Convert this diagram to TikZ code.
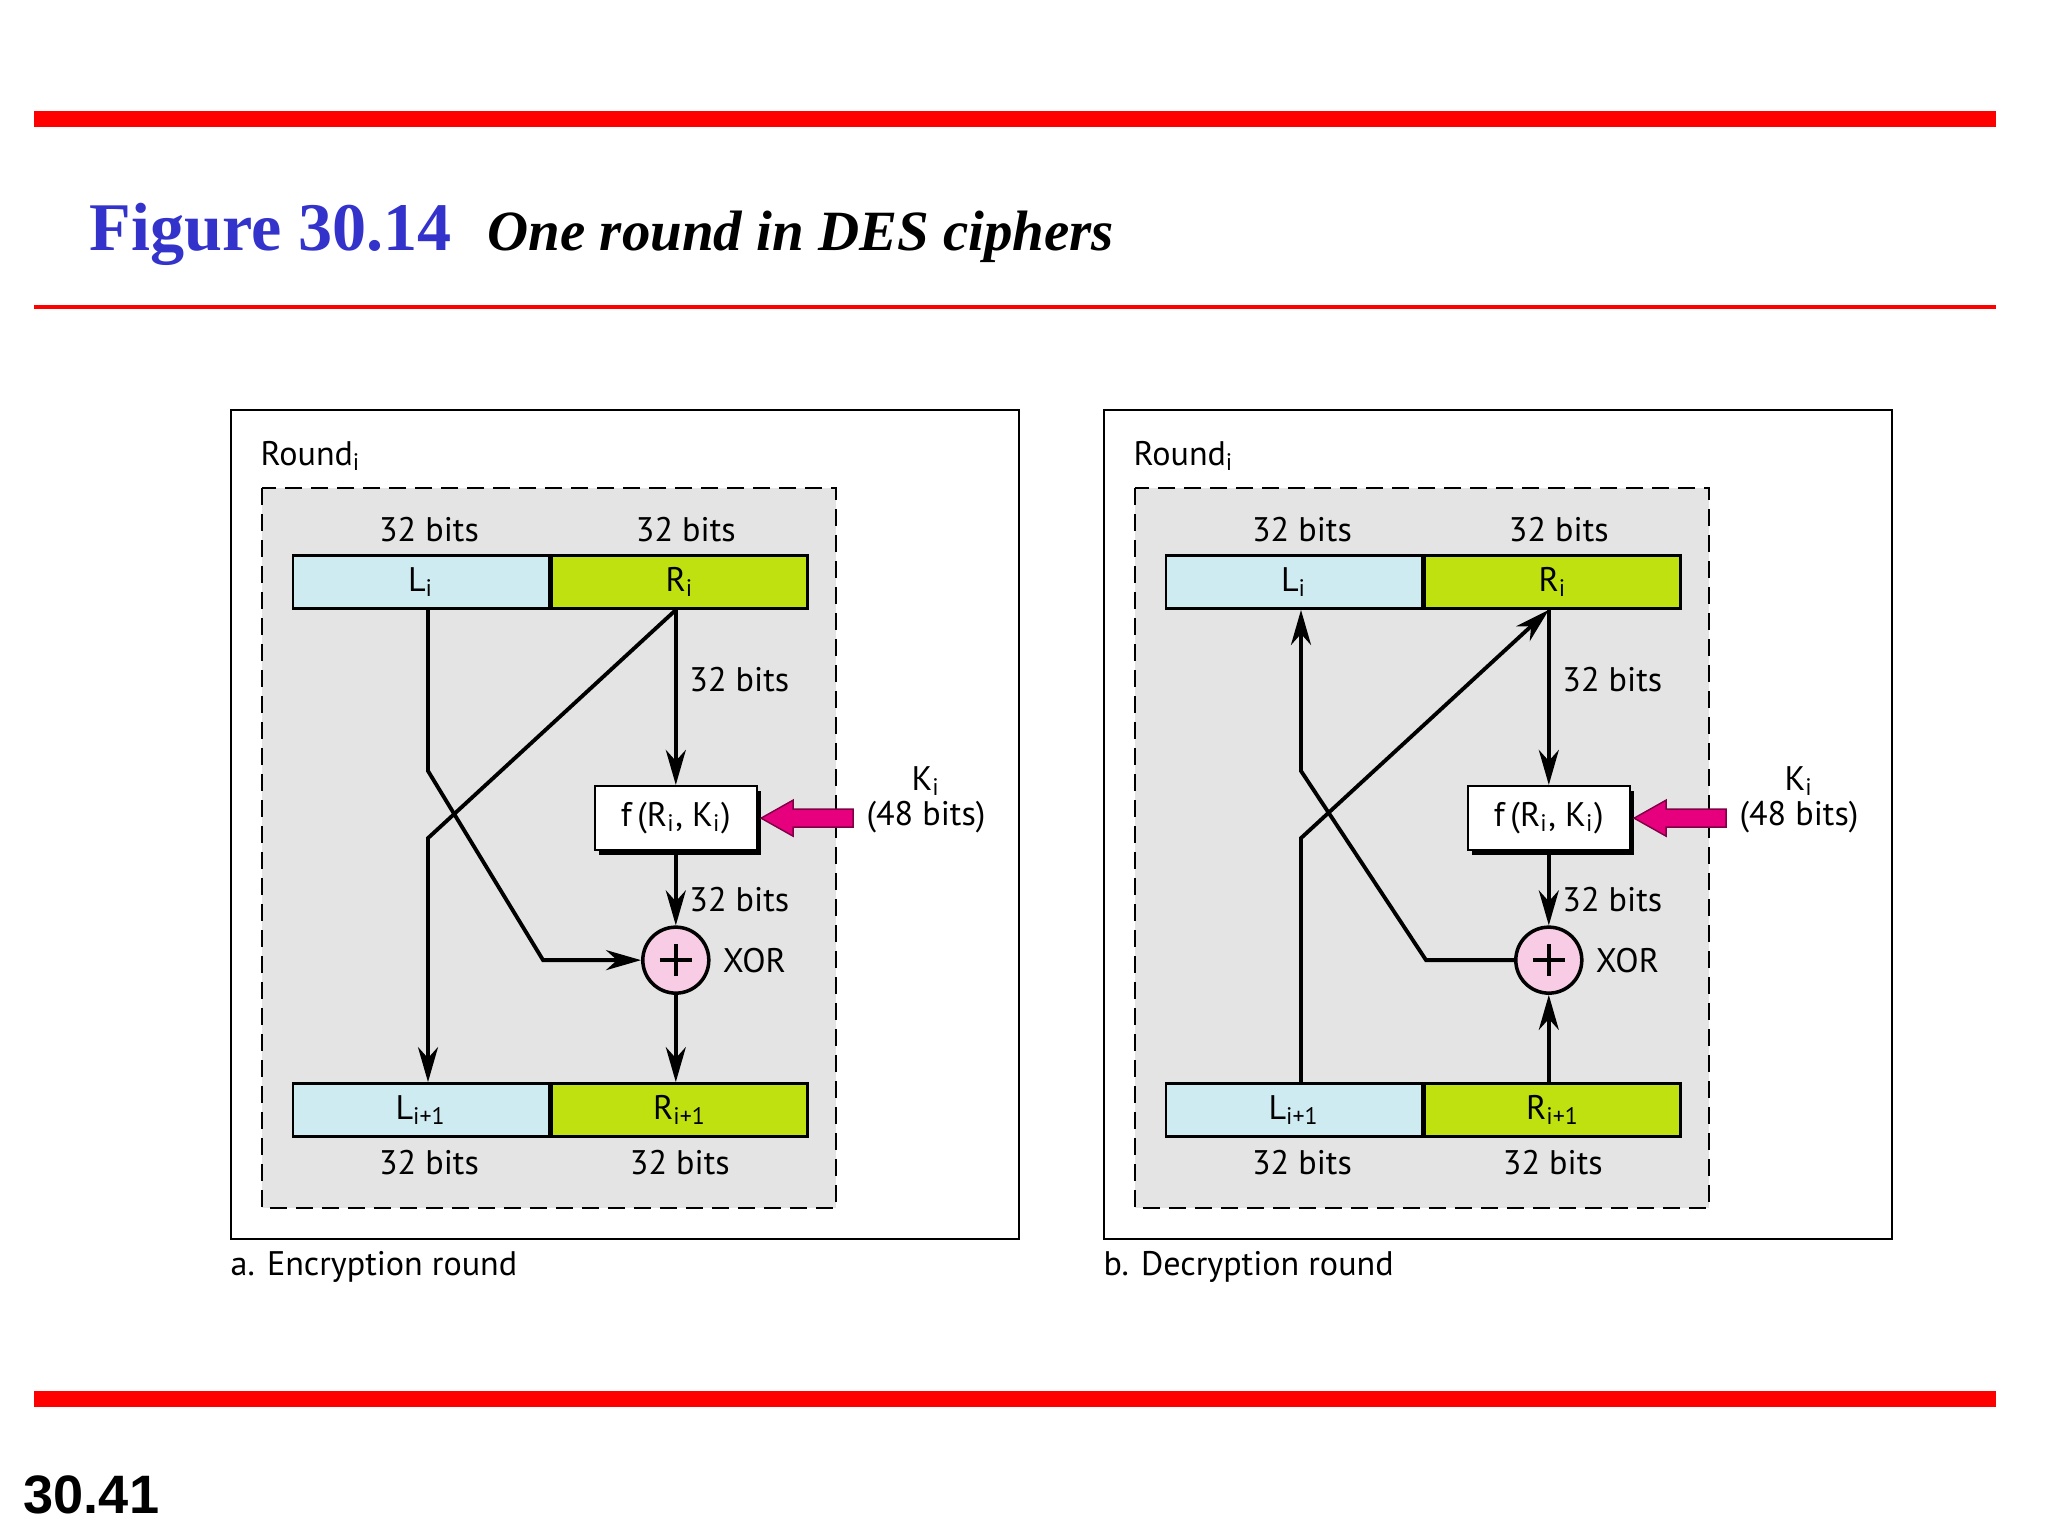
\documentclass[tikz,border=0pt]{standalone}
\usepackage{fontspec}
\setmainfont{PT Sans}
\newfontfamily\titlefont{Liberation Serif}
\newfontfamily\pagefont{Liberation Sans}
\usetikzlibrary{arrows.meta,calc,positioning,shadows}
\definecolor{RuleClr}{rgb}{1,0,0}
\definecolor{TitleClr}{RGB}{51,51,204}
\definecolor{LeftClr}{RGB}{205,235,241}
\definecolor{RightClr}{RGB}{190,225,15}
\definecolor{XorClr}{RGB}{248,204,228}
\definecolor{KeyClr}{RGB}{230,0,126}
\definecolor{RoundClr}{RGB}{228,228,228}

\begin{document}
\begin{tikzpicture}[x=0.1mm,y=-0.1mm,
  every node/.style={font=\fontsize{9.7}{11.6}\selectfont},
  half/.style={draw,line width=0.8pt,minimum width=25.6mm,minimum height=5.3mm,inner sep=0pt},
  fbox/.style={draw,line width=0.7pt,fill=white,minimum width=16.2mm,minimum height=6.4mm,
    drop shadow={shadow xshift=0.45mm,shadow yshift=-0.45mm,fill=black,opacity=1}},
  xor/.style={circle,draw,line width=1pt,fill=XorClr,minimum size=6.6mm,inner sep=0pt,
    path picture={\draw[line width=1pt]
      ([xshift=-1.6mm]path picture bounding box.center) -- ([xshift=1.6mm]path picture bounding box.center)
      ([yshift=-1.6mm]path picture bounding box.center) -- ([yshift=1.6mm]path picture bounding box.center);}},
  flow/.style={line width=1.1pt,-{Stealth[length=3.5mm,width=2mm,inset=1.1mm]}},
  keyarrow/.style={fill=KeyClr,draw=KeyClr!55!black,line width=0.4pt},
  panel/.style={draw,line width=0.8pt},
  roundarea/.style={fill=RoundClr,draw,line width=0.8pt,dash pattern=on 1.7mm off 0.9mm}]
\useasboundingbox (0,0) rectangle (2048,1536);

% slide rules and title
\fill[RuleClr] (34,111) rectangle (1996,127);
\fill[RuleClr] (34,305) rectangle (1996,309);
\fill[RuleClr] (34,1391) rectangle (1996,1407);
\node[anchor=base west,inner sep=0pt,text=TitleClr,font=\titlefont\bfseries\fontsize{19.4}{23}\selectfont] (fig) at (89,250) {Figure 30.14};
\node[anchor=base west,inner sep=0pt,font=\titlefont\bfseries\itshape\fontsize{16.2}{20}\selectfont] (title) at (487,250) {One round in DES ciphers};
\node[anchor=base west,inner sep=0pt,font=\pagefont\bfseries\fontsize{15.4}{18}\selectfont] (page) at (23,1513) {30.41};

% a. encryption round
\begin{scope}
\draw[panel] (231,410) rectangle (1019,1239);
\draw[roundarea] (262,488) rectangle (836,1208);
\node[anchor=base west,inner sep=0pt] (eRound) at (260,465) {Round\textsubscript{i}};
\node[half,fill=LeftClr] (eLi) at (421,582) {L\textsubscript{i}};
\node[half,fill=RightClr,right=0pt of eLi] (eRi) {R\textsubscript{i}};
\node[above=0pt of eLi,xshift=0.8mm] (eLbits) {32 bits};
\node[above=0pt of eRi,xshift=0.6mm] (eRbits) {32 bits};
\node[fbox,below=17.5mm of eRi,xshift=-0.4mm] (eF) {f\,(R\textsubscript{i}, K\textsubscript{i})};
\node[xor,below=7.4mm of eF] (eX) {};
\node[right=0pt of eX] (eXor) {XOR};
\node[half,fill=LeftClr] (eLn) at (421,1110) {L\textsubscript{i+1}};
\node[half,fill=RightClr,right=0pt of eLn] (eRn) {R\textsubscript{i+1}};
\node[below=0pt of eLn,xshift=0.8mm] (eLnbits) {32 bits};
\node[below=0pt of eRn] (eRnbits) {32 bits};
\node[align=center,font=\fontsize{9.7}{10}\selectfont] (eK) at (926,800) {K\textsubscript{i}\\(48 bits)};
\node[anchor=base west,inner sep=0pt] (eCap) at (230,1275) {a. Encryption round};

\coordinate (eLbend) at ($(eLi.south)+(7,161)$);
\coordinate (eLturn) at ($(eX.west)+(-98,0)$);
\coordinate (eRbend) at ($(eLn.north)+(7,-244)$);
\draw[flow] ([xshift=0.7mm]eLi.south) -- (eLbend) -- (eLturn) -- (eX.west);
\draw[flow] ([xshift=-0.4mm]eRi.south) -- (eRbend) -- ([xshift=0.7mm]eLn.north);
\draw[flow] ([xshift=-0.4mm]eRi.south) -- node[right,pos=0.4] {32 bits} (eF.north);
\draw[flow] (eF.south) -- node[right,pos=0.65] {32 bits} (eX.north);
\draw[flow] (eX.south) -- (eX |- eRn.north);
\draw[keyarrow] ($(eF.east)+(3,0)$) -- ++(32,-18) -- ++(0,9) -- ++(60,0) -- ++(0,18)
  -- ++(-60,0) -- ++(0,9) -- cycle;
\end{scope}

% b. decryption round
\begin{scope}[xshift=87.3mm]
\draw[panel] (231,410) rectangle (1019,1239);
\draw[roundarea] (262,488) rectangle (836,1208);
\node[anchor=base west,inner sep=0pt] (dRound) at (260,465) {Round\textsubscript{i}};
\node[half,fill=LeftClr] (dLi) at (421,582) {L\textsubscript{i}};
\node[half,fill=RightClr,right=0pt of dLi] (dRi) {R\textsubscript{i}};
\node[above=0pt of dLi,xshift=0.8mm] (dLbits) {32 bits};
\node[above=0pt of dRi,xshift=0.6mm] (dRbits) {32 bits};
\node[fbox,below=17.5mm of dRi,xshift=-0.4mm] (dF) {f\,(R\textsubscript{i}, K\textsubscript{i})};
\node[xor,below=7.4mm of dF] (dX) {};
\node[right=0pt of dX] (dXor) {XOR};
\node[half,fill=LeftClr] (dLn) at (421,1110) {L\textsubscript{i+1}};
\node[half,fill=RightClr,right=0pt of dLn] (dRn) {R\textsubscript{i+1}};
\node[below=0pt of dLn,xshift=0.8mm] (dLnbits) {32 bits};
\node[below=0pt of dRn] (dRnbits) {32 bits};
\node[align=center,font=\fontsize{9.7}{10}\selectfont] (dK) at (926,800) {K\textsubscript{i}\\(48 bits)};
\node[anchor=base west,inner sep=0pt] (dCap) at (230,1275) {b. Decryption round};

\coordinate (dLbend) at ($(dLi.south)+(7,161)$);
\coordinate (dLturn) at ($(dX.west)+(-88,0)$);
\coordinate (dRbend) at ($(dLn.north)+(7,-244)$);
\draw[flow] (dX.west) -- (dLturn) -- (dLbend) -- ([xshift=0.7mm]dLi.south);
\draw[flow] ([xshift=0.7mm]dLn.north) -- (dRbend) -- ([xshift=-0.4mm]dRi.south);
\draw[flow] ([xshift=-0.4mm]dRi.south) -- node[right,pos=0.4] {32 bits} (dF.north);
\draw[flow] (dF.south) -- node[right,pos=0.65] {32 bits} (dX.north);
\draw[flow] (dX |- dRn.north) -- (dX.south);
\draw[keyarrow] ($(dF.east)+(3,0)$) -- ++(32,-18) -- ++(0,9) -- ++(60,0) -- ++(0,18)
  -- ++(-60,0) -- ++(0,9) -- cycle;
\end{scope}
\end{tikzpicture}
\end{document}
